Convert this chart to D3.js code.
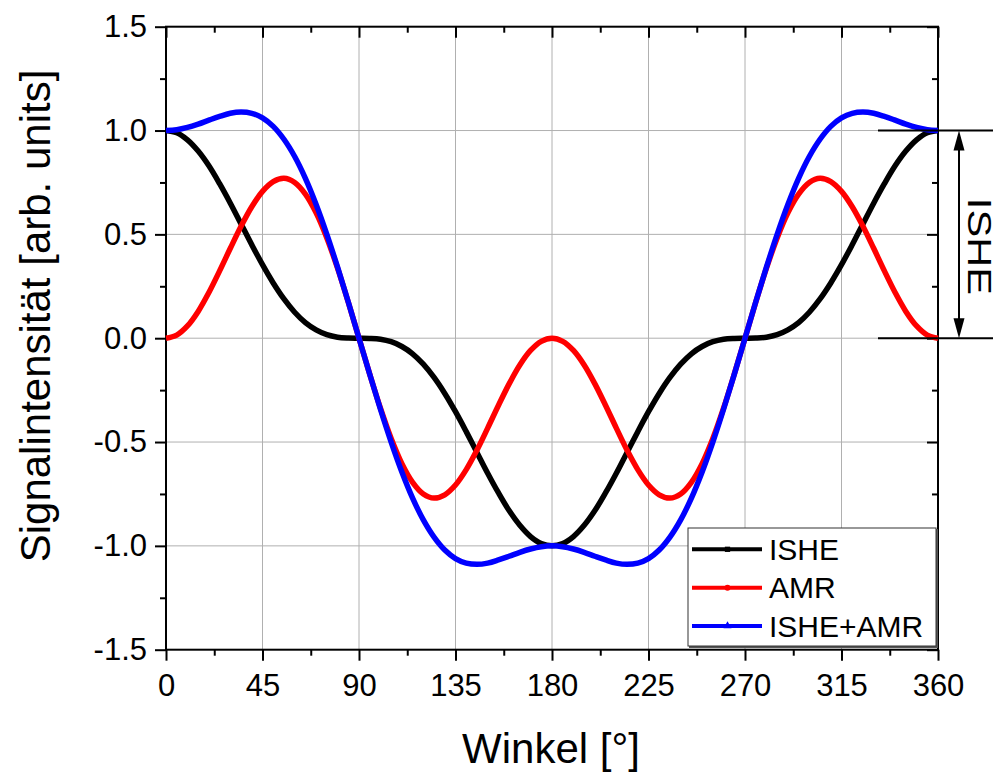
<!DOCTYPE html>
<html>
<head>
<meta charset="utf-8">
<script src="https://cdn.jsdelivr.net/npm/d3@7"></script>
<style>
  html, body { margin: 0; padding: 0; background: #fff; }
  svg { display: block; font-family: "Liberation Sans", Arial, sans-serif; }
</style>
</head>
<body>
<svg id="chart" width="1005" height="772"></svg>
<script>
// Angle in degrees, sampled every 5°
const angles = d3.range(0, 361, 5);

// Inverse spin Hall effect signal
const ishe = [
  1, 0.989, 0.955, 0.901, 0.830, 0.744, 0.650, 0.550, 0.450, 0.354, 0.266, 0.189, 0.125, 0.075, 0.040, 0.017, 0.005, 0.001, 0,
  -0.001, -0.005, -0.017, -0.040, -0.075, -0.125, -0.189, -0.266, -0.354, -0.450, -0.550, -0.650, -0.744, -0.830, -0.901, -0.955, -0.989, -1,
  -0.989, -0.955, -0.901, -0.830, -0.744, -0.650, -0.550, -0.450, -0.354, -0.266, -0.189, -0.125, -0.075, -0.040, -0.017, -0.005, -0.001, 0,
  0.001, 0.005, 0.017, 0.040, 0.075, 0.125, 0.189, 0.266, 0.354, 0.450, 0.550, 0.650, 0.744, 0.830, 0.901, 0.955, 0.989, 1
];

// Anisotropic magnetoresistance signal
const amr = [
  0, 0.015, 0.059, 0.129, 0.220, 0.324, 0.433, 0.539, 0.633, 0.707, 0.754, 0.770, 0.750, 0.694, 0.604, 0.483, 0.337, 0.173, 0,
  -0.173, -0.337, -0.483, -0.604, -0.694, -0.750, -0.770, -0.754, -0.707, -0.633, -0.539, -0.433, -0.324, -0.220, -0.129, -0.059, -0.015, 0,
  -0.015, -0.059, -0.129, -0.220, -0.324, -0.433, -0.539, -0.633, -0.707, -0.754, -0.770, -0.750, -0.694, -0.604, -0.483, -0.337, -0.173, 0,
  0.173, 0.337, 0.483, 0.604, 0.694, 0.750, 0.770, 0.754, 0.707, 0.633, 0.539, 0.433, 0.324, 0.220, 0.129, 0.059, 0.015, 0
];

// Combined signal
const isheAmr = [
  1, 1.004, 1.015, 1.031, 1.050, 1.068, 1.083, 1.089, 1.083, 1.061, 1.020, 0.958, 0.875, 0.770, 0.644, 0.500, 0.342, 0.174, 0,
  -0.174, -0.342, -0.500, -0.644, -0.770, -0.875, -0.958, -1.020, -1.061, -1.083, -1.089, -1.083, -1.068, -1.050, -1.031, -1.015, -1.004, -1,
  -1.004, -1.015, -1.031, -1.050, -1.068, -1.083, -1.089, -1.083, -1.061, -1.020, -0.958, -0.875, -0.770, -0.644, -0.500, -0.342, -0.174, 0,
  0.174, 0.342, 0.500, 0.644, 0.770, 0.875, 0.958, 1.020, 1.061, 1.083, 1.089, 1.083, 1.068, 1.050, 1.031, 1.015, 1.004, 1
];

const xTicks = [0, 45, 90, 135, 180, 225, 270, 315, 360];
const yTicks = [-1.5, -1.0, -0.5, 0.0, 0.5, 1.0, 1.5];
const yTickLabels = ["-1.5", "-1.0", "-0.5", "0.0", "0.5", "1.0", "1.5"];
const seriesNames = ["ISHE", "AMR", "ISHE+AMR"];
const seriesColors = ["#000000", "#ff0000", "#0000ff"];

const svg = d3.select("#chart");
const plotLeft = 166, plotRight = 938, plotTop = 26.7, plotBottom = 649.7;

const x = d3.scaleLinear().domain([0, 360]).range([plotLeft, plotRight]);
const y = d3.scaleLinear().domain([-1.5, 1.5]).range([plotBottom, plotTop]);

// Grid
const grid = svg.append("g").attr("stroke", "#b0b0b0").attr("stroke-width", 1);
grid.selectAll("line.gx").data(xTicks.slice(1, -1)).join("line")
  .attr("x1", d => x(d)).attr("x2", d => x(d)).attr("y1", plotTop).attr("y2", plotBottom);
grid.selectAll("line.gy").data(yTicks.slice(1, -1)).join("line")
  .attr("y1", d => y(d)).attr("y2", d => y(d)).attr("x1", plotLeft).attr("x2", plotRight);

// Axes
const minorX = d3.range(0, 361, 22.5).filter(v => v % 45 !== 0);
const minorY = d3.range(-1.5, 1.51, 0.25).filter(v => Math.abs((v * 2) - Math.round(v * 2)) > 1e-6);

function styleAxis(g) {
  g.select(".domain").remove();
  g.selectAll(".tick line").attr("stroke", "#000").attr("stroke-width", 2);
}

const fmtY = (d, i) => yTickLabels[i];
const tickFont = g => g.selectAll("text").attr("font-size", 31).attr("fill", "#000")
  .attr("font-family", "Liberation Sans, Arial, sans-serif");

svg.append("g").attr("transform", `translate(0,${plotBottom})`)
  .call(d3.axisBottom(x).tickValues(xTicks).tickSize(11).tickPadding(13).tickFormat(d3.format("d")))
  .call(styleAxis).call(tickFont);
svg.append("g").attr("transform", `translate(0,${plotBottom})`)
  .call(d3.axisBottom(x).tickValues(minorX).tickSize(6).tickFormat(""))
  .call(styleAxis);

svg.append("g").attr("transform", `translate(${plotLeft},0)`)
  .call(d3.axisLeft(y).tickValues(yTicks).tickSize(11).tickPadding(8).tickFormat(fmtY))
  .call(styleAxis).call(tickFont);
svg.append("g").attr("transform", `translate(${plotLeft},0)`)
  .call(d3.axisLeft(y).tickValues(minorY).tickSize(6).tickFormat(""))
  .call(styleAxis);

// Mirrored inward ticks on top and right
svg.append("g").attr("transform", `translate(0,${plotTop})`)
  .call(d3.axisBottom(x).tickValues(xTicks).tickSize(11).tickFormat(""))
  .call(styleAxis);
svg.append("g").attr("transform", `translate(0,${plotTop})`)
  .call(d3.axisBottom(x).tickValues(minorX).tickSize(6).tickFormat(""))
  .call(styleAxis);
svg.append("g").attr("transform", `translate(${plotRight},0)`)
  .call(d3.axisLeft(y).tickValues(yTicks).tickSize(11).tickFormat(""))
  .call(styleAxis);
svg.append("g").attr("transform", `translate(${plotRight},0)`)
  .call(d3.axisLeft(y).tickValues(minorY).tickSize(6).tickFormat(""))
  .call(styleAxis);

// Frame
svg.append("rect")
  .attr("x", plotLeft).attr("y", plotTop)
  .attr("width", plotRight - plotLeft).attr("height", plotBottom - plotTop)
  .attr("fill", "none").attr("stroke", "#000").attr("stroke-width", 2);

// Curves
const line = d3.line().curve(d3.curveCatmullRom.alpha(0.5))
  .x(d => x(d[0])).y(d => y(d[1]));
[ishe, amr, isheAmr].forEach((vals, i) => {
  svg.append("path")
    .datum(angles.map((a, k) => [a, vals[k]]))
    .attr("d", line)
    .attr("fill", "none")
    .attr("stroke", seriesColors[i])
    .attr("stroke-width", 5.5)
    .attr("stroke-linejoin", "round");
});

// Axis titles
svg.append("text")
  .attr("x", 551).attr("y", 763).attr("text-anchor", "middle")
  .attr("font-size", 42).attr("fill", "#000")
  .text("Winkel [°]");
svg.append("text")
  .attr("transform", "translate(50,316) rotate(-90)")
  .attr("text-anchor", "middle")
  .attr("font-size", 42).attr("fill", "#000")
  .text("Signalintensität [arb. units]");

// ISHE amplitude marker
const ann = svg.append("g").attr("stroke", "#000").attr("stroke-width", 2);
ann.append("line").attr("x1", 878).attr("x2", 993).attr("y1", y(1)).attr("y2", y(1));
ann.append("line").attr("x1", 878).attr("x2", 993).attr("y1", y(0)).attr("y2", y(0));
ann.append("line").attr("x1", 959).attr("x2", 959).attr("y1", y(1) + 12).attr("y2", y(0) - 12);
const ah = 20, aw = 5.5;
svg.append("path")
  .attr("d", `M959,${y(1)} L${959 - aw},${y(1) + ah} L${959 + aw},${y(1) + ah} Z`)
  .attr("fill", "#000");
svg.append("path")
  .attr("d", `M959,${y(0)} L${959 - aw},${y(0) - ah} L${959 + aw},${y(0) - ah} Z`)
  .attr("fill", "#000");
svg.append("text")
  .attr("transform", `translate(968,${(y(1) + y(0)) / 2 + 12}) rotate(90)`)
  .attr("text-anchor", "middle")
  .attr("font-size", 33).attr("fill", "#000")
  .attr("textLength", 97).attr("lengthAdjust", "spacingAndGlyphs")
  .text("ISHE");

// Legend
const lg = svg.append("g");
lg.append("rect").attr("x", 689).attr("y", 529).attr("width", 249).attr("height", 119).attr("fill", "#555");
lg.append("rect").attr("x", 688).attr("y", 528).attr("width", 248).attr("height", 118)
  .attr("fill", "#fff").attr("stroke", "#333").attr("stroke-width", 1);
const rowY = [549.3, 587.7, 626];
seriesNames.forEach((name, i) => {
  lg.append("line").attr("x1", 692).attr("x2", 762).attr("y1", rowY[i]).attr("y2", rowY[i])
    .attr("stroke", seriesColors[i]).attr("stroke-width", 4);
  const sym = i === 0 ? d3.symbolSquare : (i === 1 ? d3.symbolCircle : d3.symbolTriangle);
  lg.append("path").attr("d", d3.symbol().type(sym).size(28)())
    .attr("transform", `translate(727.5,${rowY[i]})`).attr("fill", seriesColors[i]);
  lg.append("text").attr("x", 769).attr("y", rowY[i] + 10.5)
    .attr("font-size", 30).attr("fill", "#000").text(name);
});
</script>
</body>
</html>
